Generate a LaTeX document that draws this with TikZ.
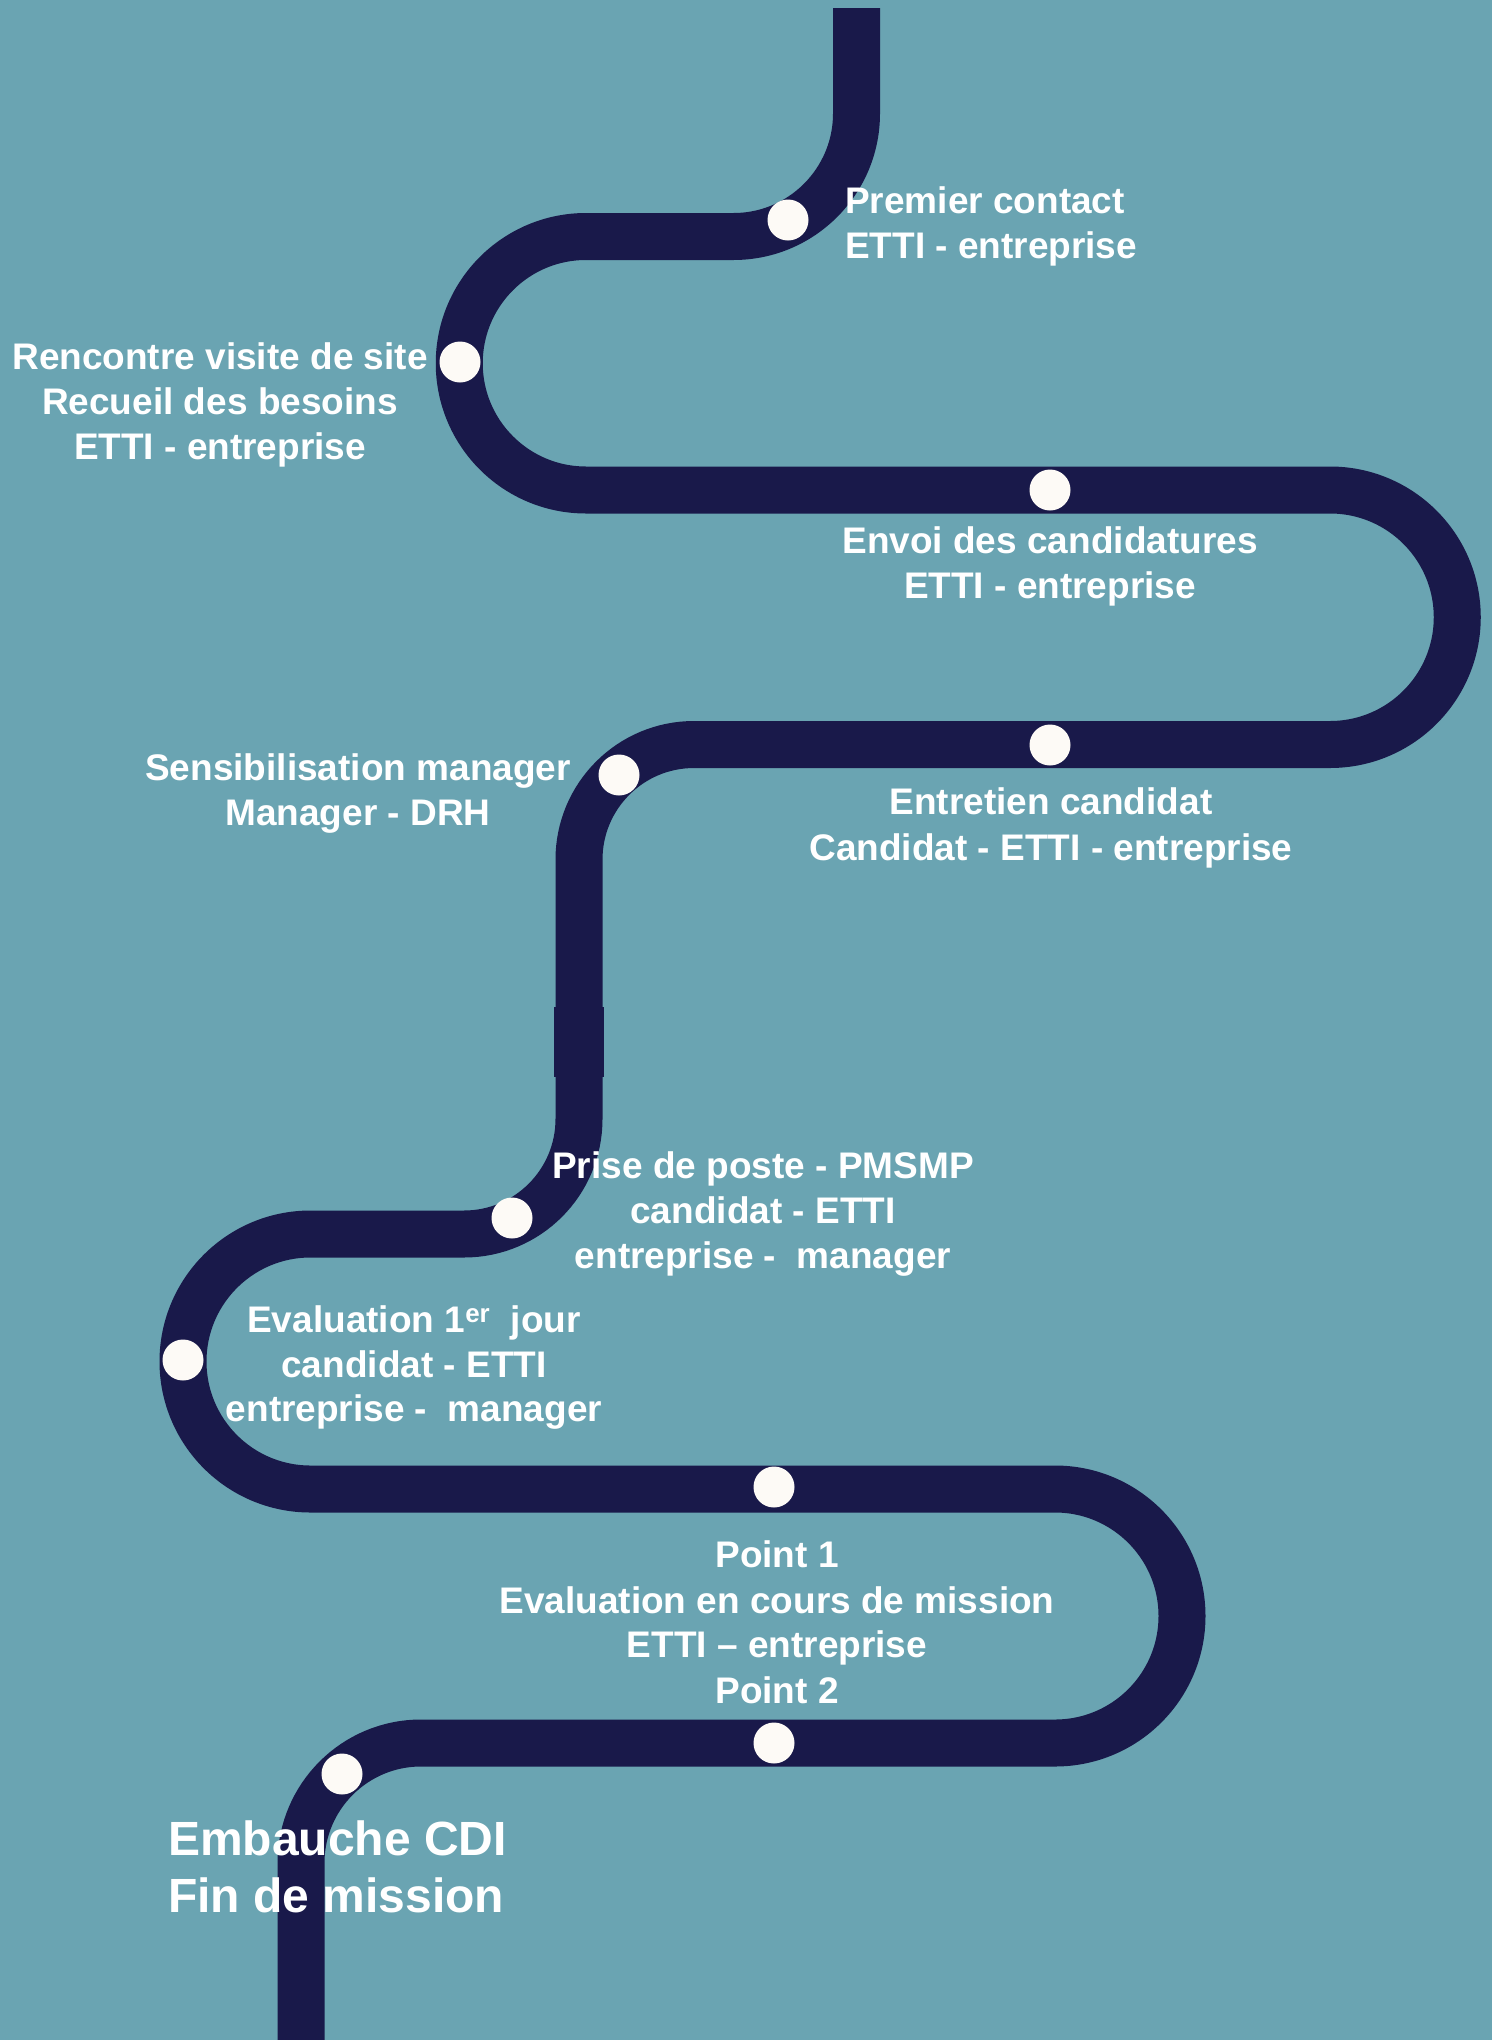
\documentclass[tikz,border=0pt]{standalone}
\usepackage{fontspec}
\setmainfont{Liberation Sans}
\definecolor{bgteal}{HTML}{6AA4B2}
\definecolor{roadnavy}{HTML}{19194A}
\definecolor{dotwhite}{HTML}{FDFAF6}
\tikzset{
  road/.style={draw=roadnavy, line width=47pt, line cap=butt, line join=round},
  stopdot/.style={circle, fill=dotwhite, minimum size=41pt, inner sep=0pt},
  lbl/.style={text=white, inner sep=0pt, anchor=base, font=\fontsize{37}{45}\selectfont\bfseries},
  lblw/.style={lbl, anchor=base west},
  biglbl/.style={text=white, inner sep=0pt, anchor=base west, font=\fontsize{48}{56}\selectfont\bfseries},
}
\begin{document}
\begin{tikzpicture}[x=1pt,y=1pt]
\fill[bgteal] (0,0) rectangle (1492,-2040);
\useasboundingbox (0,0) rectangle (1492,-2040);
\begin{scope}
\clip (0,0) rectangle (1492,-2040);
\draw[road] (856.5,-8) -- (856.5,-113.5)
  arc[start angle=0,end angle=-90,radius=123] -- (586,-236.5)
  arc[start angle=90,end angle=270,radius=126.75] -- (1330,-490)
  arc[start angle=90,end angle=-90,radius=127.25] -- (694,-744.5)
  arc[start angle=90,end angle=180,radius=115] -- (579,-1119)
  arc[start angle=0,end angle=-90,radius=115] -- (310.5,-1234)
  arc[start angle=90,end angle=270,radius=127.5] -- (1055,-1489)
  arc[start angle=90,end angle=-90,radius=127] -- (421,-1743)
  arc[start angle=90,end angle=180,radius=120] -- (301,-2050);
\fill[roadnavy] (554,-1007) rectangle (603.5,-1077);
\end{scope}
% stops
\node[stopdot] (d1) at (788,-220) {};
\node[stopdot] (d2) at (460,-362) {};
\node[stopdot] (d3) at (1050,-490) {};
\node[stopdot] (d4) at (1050,-745) {};
\node[stopdot] (d5) at (619,-775) {};
\node[stopdot] (d6) at (512,-1218) {};
\node[stopdot] (d7) at (183,-1360) {};
\node[stopdot] (d8) at (774,-1487) {};
\node[stopdot] (d9) at (774,-1743) {};
\node[stopdot] (d10) at (342,-1774) {};
% labels
\node[lblw] (t1a) at (845,-213) {Premier contact};
\node[lblw] (t1b) at (845,-258) {ETTI - entreprise};
\node[lbl] (t2a) at (220,-369) {Rencontre visite de site};
\node[lbl] (t2b) at (220,-414) {Recueil des besoins};
\node[lbl] (t2c) at (220,-459) {ETTI - entreprise};
\node[lbl] (t3a) at (1050,-553) {Envoi des candidatures};
\node[lbl] (t3b) at (1050,-598) {ETTI - entreprise};
\node[lbl] (t4a) at (358,-780) {Sensibilisation manager};
\node[lbl] (t4b) at (358,-825) {Manager - DRH};
\node[lbl] (t5a) at (1051,-814) {Entretien candidat};
\node[lbl] (t5b) at (1051,-860) {Candidat - ETTI - entreprise};
\node[lbl] (t6a) at (763,-1178) {Prise de poste - PMSMP};
\node[lbl] (t6b) at (763,-1223) {candidat - ETTI};
\node[lbl] (t6c) at (763,-1268) {entreprise -~ manager};
\node[lbl] (t7a) at (414,-1332) {Evaluation 1\textsuperscript{er}~ jour};
\node[lbl] (t7b) at (414,-1377) {candidat - ETTI};
\node[lbl] (t7c) at (414,-1421) {entreprise -~ manager};
\node[lbl] (t8a) at (777,-1567) {Point 1};
\node[lbl] (t8b) at (777,-1613) {Evaluation en cours de mission};
\node[lbl] (t8c) at (777,-1657) {ETTI – entreprise};
\node[lbl] (t8d) at (777,-1703) {Point 2};
\node[biglbl] (t9a) at (168,-1855) {Embauche CDI};
\node[biglbl] (t9b) at (168,-1912) {Fin de mission};
\end{tikzpicture}
\end{document}
